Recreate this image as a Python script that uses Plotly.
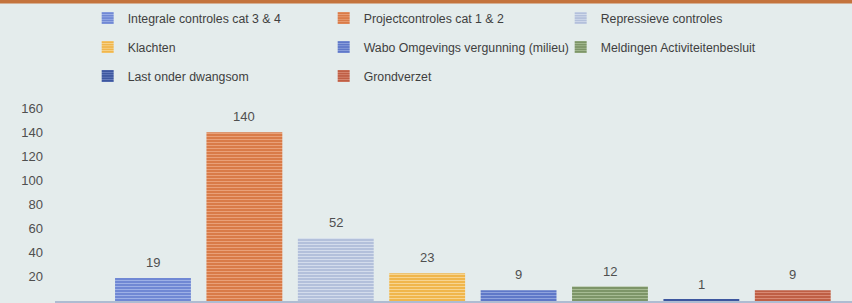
import plotly.graph_objects as go

series = ["Integrale controles cat 3 & 4", "Projectcontroles cat 1 & 2", "Repressieve controles",
          "Klachten", "Wabo Omgevings vergunning (milieu)", "Meldingen Activiteitenbesluit",
          "Last onder dwangsom", "Grondverzet"]
values = [19, 140, 52, 23, 9, 12, 1, 9]
colors = ["#7088d4", "#d97b48", "#b3c0db", "#f0b64c", "#5f78c8", "#7d9568", "#3d579f", "#bf5f45"]
stripes = ["#9db0e6", "#e9a078", "#d3dcec", "#f7d490", "#8fa3dd", "#a6bb93", "#6a80c0", "#d88a74"]
y_ticks = [0, 20, 40, 60, 80, 100, 120, 140, 160]

# legend rows (legend id per series) and column widths
legend_ids = ["legend", "legend", "legend", "legend2", "legend2", "legend2", "legend3", "legend3"]
legend_w = [191, 192, 150, 191, 192, 180, 191, 120]

BG = "#e4ecec"
TXT = "#4f4f4f"

fig = go.Figure()
for i, name in enumerate(series):
    fig.add_trace(go.Bar(
        x=[i], y=[values[i]], name=name, width=0.83,
        marker=dict(color=colors[i], line=dict(width=0),
                    pattern=dict(shape="-", size=3, solidity=0.35,
                                 fgcolor=stripes[i], bgcolor=colors[i], fillmode="replace")),
        legend=legend_ids[i], legendwidth=legend_w[i],
        hoverinfo="skip",
    ))
    fig.add_annotation(x=i, y=values[i], text=str(values[i]), showarrow=False,
                       yanchor="bottom", yshift=6,
                       font=dict(family="Liberation Sans, Arial, sans-serif", size=13, color=TXT))

leg_font = dict(family="Liberation Sans, Arial, sans-serif", size=12.3, color="#3f3f3f")
def leg(y):
    return dict(orientation="h", x=0.041, xanchor="left", y=y, yanchor="middle",
                bgcolor="rgba(0,0,0,0)", font=leg_font, itemwidth=30,
                tracegroupgap=0, itemclick=False, itemdoubleclick=False)

fig.update_layout(
    width=852, height=303,
    margin=dict(l=55, r=0, t=108, b=2),
    paper_bgcolor=BG, plot_bgcolor=BG,
    barmode="overlay",
    showlegend=True,
    legend=leg(1.466), legend2=leg(1.316), legend3=leg(1.166),
    xaxis=dict(range=[-1.072, 7.648], showticklabels=False, showgrid=False, zeroline=False,
               showline=True, linecolor="#aebcd2", linewidth=2, ticks=""),
    yaxis=dict(range=[0, 160], tickvals=y_ticks, showgrid=False, zeroline=False, showline=False,
               ticks="", ticklabelstandoff=11,
               tickfont=dict(family="Liberation Sans, Arial, sans-serif", size=13, color=TXT)),
    shapes=[dict(type="rect", xref="paper", yref="paper", x0=-0.1, x1=1.1,
                 y0=(301 - 3.5) / 193, y1=1.7, fillcolor="#c4733d", line=dict(width=0), layer="above")],
)

fig.write_html("out.html", config={"displayModeBar": False},
               post_script="document.body.style.margin='0';document.body.style.background='" + BG + "';")
